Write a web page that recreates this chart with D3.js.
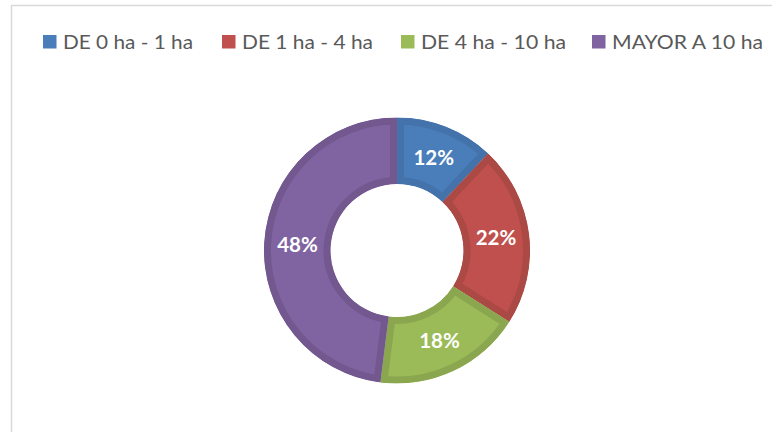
<!DOCTYPE html>
<html>
<head>
<meta charset="utf-8">
<script src="https://cdn.jsdelivr.net/npm/d3@7"></script>
<style>
  html, body { margin: 0; padding: 0; background: #fff; }
  svg { display: block; }
</style>
</head>
<body>
<svg id="chart" width="772" height="432"></svg>
<script>
const categories = ["DE 0 ha - 1 ha", "DE 1 ha - 4 ha", "DE 4 ha - 10 ha", "MAYOR A 10 ha"];
const values = [12, 22, 18, 48];
const fillColors = ["#4a7ebb", "#c0504d", "#9bbb59", "#8064a2"];
const edgeColors = ["#4472aa", "#ab4945", "#8aa74f", "#72588f"];
const legendX = [43, 222, 401, 592];
const legendTextW = [130, 131, 145, 151];

const svg = d3.select("#chart");

// chart area border
svg.append("rect")
  .attr("x", 11.5).attr("y", 5.5)
  .attr("width", 800).attr("height", 500)
  .attr("fill", "#fff").attr("stroke", "#d9d9d9").attr("stroke-width", 1.5);

const cx = 397, cy = 250.5, rOuter = 133, rInner = 66.5;

const pie = d3.pie().sort(null).value(d => d)(values);
const arc = d3.arc().innerRadius(rInner).outerRadius(rOuter);

const g = svg.append("g").attr("transform", `translate(${cx},${cy})`);
const defs = svg.append("defs");

pie.forEach((p, i) => {
  const path = arc(p);
  defs.append("clipPath").attr("id", "clip" + i)
    .append("path").attr("d", path);
  g.append("path")
    .attr("d", path)
    .attr("fill", fillColors[i])
    .attr("stroke", edgeColors[i])
    .attr("stroke-width", 14)
    .attr("stroke-linejoin", "miter")
    .attr("clip-path", `url(#clip${i})`);
});

// labels
g.selectAll("text.lbl").data(pie).enter().append("text")
  .attr("class", "lbl")
  .attr("transform", d => `translate(${arc.centroid(d)})`)
  .attr("text-anchor", "middle")
  .attr("dy", "0.36em")
  .attr("fill", "#fff")
  .style("font-family", "Lato, 'Open Sans', sans-serif")
  .style("font-weight", "bold")
  .style("font-size", "20.5px")
  .text(d => d.value + "%");

// legend
const leg = svg.append("g");
categories.forEach((c, i) => {
  leg.append("rect")
    .attr("x", legendX[i]).attr("y", 35)
    .attr("width", 13.5).attr("height", 13.5)
    .attr("fill", fillColors[i]);
  leg.append("text")
    .attr("x", legendX[i] + 20).attr("y", 48.5)
    .attr("fill", "#595959")
    .attr("textLength", legendTextW[i])
    .attr("lengthAdjust", "spacingAndGlyphs")
    .style("font-family", "Lato, 'Open Sans', sans-serif")
    .style("font-size", "19px")
    .text(c);
});
</script>
</body>
</html>
